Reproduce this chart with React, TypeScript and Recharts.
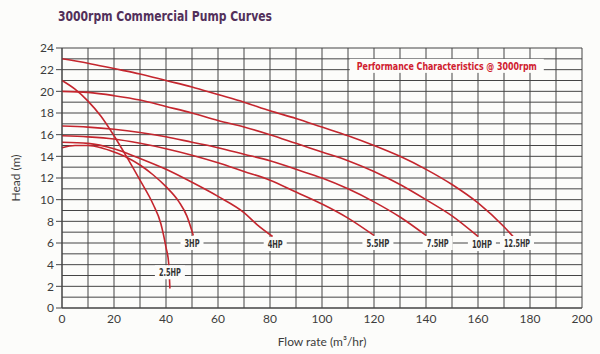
import { LineChart, Line, XAxis, YAxis, CartesianGrid, ReferenceDot, Label } from "recharts";

// flow (m3/hr) / head (m)
const flow25 = [0, 5, 10, 15, 20, 25, 30, 35, 38, 40, 41, 41.5];
const head25 = [21.0, 20.2, 19.1, 17.7, 15.9, 13.9, 11.8, 9.6, 7.8, 5.6, 4.2, 1.8];

const flow3 = [0, 5, 10, 15, 20, 25, 30, 35, 40, 45, 48, 50.5];
const head3 = [14.8, 15.0, 15.0, 14.8, 14.4, 13.9, 13.2, 12.3, 11.2, 9.8, 8.5, 6.7];

const flow4 = [0, 10, 20, 30, 40, 50, 60, 70, 75, 81];
const head4 = [15.3, 15.2, 14.7, 13.8, 12.8, 11.6, 10.3, 8.8, 7.7, 6.6];

const flow55 = [0, 10, 20, 30, 40, 50, 60, 70, 80, 90, 100, 110, 120];
const head55 = [15.9, 15.8, 15.6, 15.2, 14.7, 14.1, 13.4, 12.6, 11.8, 10.7, 9.6, 8.3, 6.7];

const flow75 = [0, 10, 20, 30, 40, 50, 60, 70, 80, 90, 100, 110, 120, 130, 140];
const head75 = [16.8, 16.7, 16.5, 16.2, 15.8, 15.3, 14.8, 14.2, 13.6, 12.8, 12.0, 11.0, 9.8, 8.4, 6.7];

const flow10 = [0, 10, 20, 30, 40, 50, 60, 70, 80, 90, 100, 110, 120, 130, 140, 150, 160];
const head10 = [20.0, 19.9, 19.6, 19.2, 18.6, 18.0, 17.3, 16.7, 16.0, 15.2, 14.4, 13.6, 12.6, 11.4, 10.0, 8.5, 6.6];

const flow125 = [0, 10, 20, 30, 40, 50, 60, 70, 80, 90, 100, 110, 120, 130, 140, 150, 160, 170, 173.5];
const head125 = [23.0, 22.6, 22.1, 21.6, 21.0, 20.4, 19.7, 19.0, 18.2, 17.5, 16.7, 15.9, 15.0, 14.0, 12.8, 11.4, 9.7, 7.5, 6.6];

const curveNames = ["2.5HP", "3HP", "4HP", "5.5HP", "7.5HP", "10HP", "12.5HP"];
const curveFlows = [flow25, flow3, flow4, flow55, flow75, flow10, flow125];
const curveHeads = [head25, head3, head4, head55, head75, head10, head125];

// curve labels sitting on the 6 m line
const labelFlow = [41.5, 50, 82, 121.5, 144.5, 161.5, 175];
const labelHead = [3.3, 6, 5.9, 6, 6, 5.9, 6];
const labelWidth = [22, 15, 15, 23, 22, 20, 26];

const xTicks = [0, 10, 20, 30, 40, 50, 60, 70, 80, 90, 100, 110, 120, 130, 140, 150, 160, 170, 180, 190, 200];
const yTicks = [0, 1, 2, 3, 4, 5, 6, 7, 8, 9, 10, 11, 12, 13, 14, 15, 16, 17, 18, 19, 20, 21, 22, 23, 24];

const RED = "#c4262e";
const GRID = "#454545";
const NARROW = '"Liberation Sans Narrow", "DejaVu Sans Condensed", sans-serif';
const HUMAN = 'Lato, "Open Sans", sans-serif';

const series = curveNames.map((name, i) => ({
  name,
  data: curveFlows[i].map((f, j) => ({ flow: f, head: curveHeads[i][j] })),
}));

function YTick(props: any) {
  const { x, y, payload } = props;
  if (payload.value % 2 !== 0) return null;
  return (
    <g>
      <line x1={x + 2} x2={x + 8} y1={y} y2={y} stroke={GRID} />
      <text x={x} y={y} dy="0.36em" textAnchor="end" fontSize={12} fill="#3c3c3c" fontFamily={HUMAN}>
        {payload.value}
      </text>
    </g>
  );
}

function XTick(props: any) {
  const { x, y, payload } = props;
  if (payload.value % 20 !== 0) return null;
  return (
    <text x={x} y={y} dy="0.71em" textAnchor="middle" fontSize={12} fill="#3c3c3c" fontFamily={HUMAN}>
      {payload.value}
    </text>
  );
}

function boxLabel(text: string, w: number, color: string, size: number, boxW: number) {
  return (props: any) => {
    const { cx, cy } = props;
    return (
      <g>
        <rect x={cx - boxW / 2} y={cy - 7} width={boxW} height={14} fill="#fcfcfa" />
        <text
          x={cx}
          y={cy}
          dy="0.35em"
          textAnchor="middle"
          fontSize={size}
          fontWeight="bold"
          fill={color}
          fontFamily={NARROW}
          textLength={w}
          lengthAdjust="spacingAndGlyphs"
        >
          {text}
        </text>
      </g>
    );
  };
}

export default function App() {
  return (
    <div style={{ position: "absolute", left: 0, top: 0, width: 600, height: 354, background: "#fcfcfa" }}>
      <LineChart width={600} height={354} margin={{ top: 48, right: 18, bottom: 6, left: 0 }}>
        <CartesianGrid stroke={GRID} strokeWidth={1} />
        <XAxis
          type="number"
          dataKey="flow"
          domain={[0, 200]}
          ticks={xTicks}
          interval={0}
          height={40}
          tickLine={false}
          tickSize={4}
          tickMargin={2}
          axisLine={{ stroke: GRID }}
          tick={<XTick />}
        >
          <Label
            value="Flow rate (m³/hr)"
            position="insideBottom"
            offset={2}
            fontSize={12}
            fill="#3c3c3c"
            fontFamily={HUMAN}
          />
        </XAxis>
        <YAxis
          type="number"
          dataKey="head"
          domain={[0, 24]}
          ticks={yTicks}
          interval={0}
          width={62}
          tickLine={false}
          tickSize={6}
          tickMargin={2}
          axisLine={{ stroke: GRID }}
          tick={<YTick />}
        >
          <Label
            value="Head (m)"
            angle={-90}
            position="insideLeft"
            offset={16}
            style={{ textAnchor: "middle" }}
            fontSize={12}
            fill="#3c3c3c"
            fontFamily={HUMAN}
          />
        </YAxis>
        {series.map((s) => (
          <Line
            key={s.name}
            data={s.data}
            dataKey="head"
            type="monotone"
            stroke={RED}
            strokeWidth={1.6}
            dot={false}
            isAnimationActive={false}
          />
        ))}
        {curveNames.map((name, i) => (
          <ReferenceDot
            key={name}
            x={labelFlow[i]}
            y={labelHead[i]}
            r={0}
            shape={boxLabel(name, labelWidth[i], "#333333", 10, labelWidth[i] + 8)}
          />
        ))}
        <ReferenceDot
          x={148}
          y={22.35}
          r={0}
          shape={boxLabel("Performance Characteristics @ 3000rpm", 180, "#d0202e", 11, 194)}
        />
      </LineChart>
      <svg width={600} height={40} style={{ position: "absolute", left: 0, top: 0, pointerEvents: "none" }}>
        <text
          x={58}
          y={21}
          fontSize={14}
          fontWeight="bold"
          fill="#52305a"
          fontFamily={NARROW}
          textLength={214}
          lengthAdjust="spacingAndGlyphs"
        >
          3000rpm Commercial Pump Curves
        </text>
      </svg>
    </div>
  );
}
